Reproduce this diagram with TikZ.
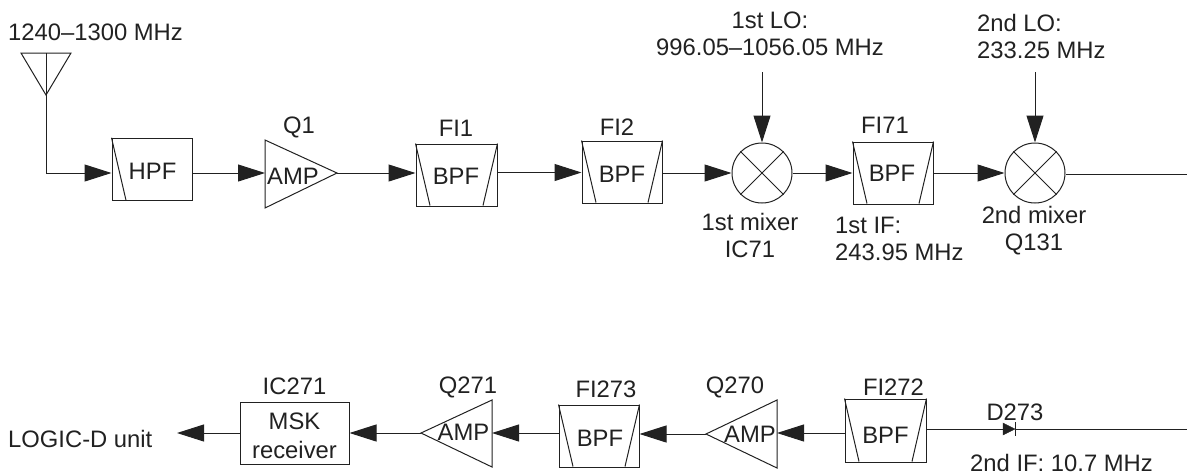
\documentclass[tikz,border=0pt]{standalone}
\usepackage{fontspec}
\setmainfont{Liberation Sans}
\usetikzlibrary{arrows.meta}
\definecolor{ink}{gray}{0.13}
\tikzset{
  x=1pt,y=-1pt,
  wire/.style={draw=ink,line width=1pt},
  sig/.style={wire,-{Triangle[length=27pt,width=17pt,fill=ink]}},
  outl/.style={draw=ink,line width=1pt},
  lbl/.style={text=ink,font=\fontsize{23.8}{27}\selectfont,inner sep=0pt,align=center},
  lblw/.style={lbl,align=left,anchor=west},
  boxn/.style={outl,rectangle,inner sep=0pt},
  mixern/.style={outl,circle,inner sep=0pt,minimum size=60pt}
}
% name, left, top, right, bottom, text x, text y
\newcommand{\bpfbox}[7]{%
  \node[boxn,minimum width={(#4-#2)*1pt},minimum height={(#5-#3)*1pt}] (#1) at ({(#2+#4)/2},{(#3+#5)/2}) {};
  \draw[outl] (#1.north west) -- ++(14.5,{#5-#3});
  \draw[outl] (#1.north east) -- ++(-14.5,{#5-#3});
  \node[lbl] (#1t) at (#6,#7) {BPF};
}
\newcommand{\mixerx}[1]{%
  \draw[outl] (#1.45) -- (#1.225);
  \draw[outl] (#1.135) -- (#1.315);
}
\begin{document}
\begin{tikzpicture}
\useasboundingbox (0,0) rectangle (1187,475);
% top row
\node[lbl,anchor=west] (rf) at (8,32) {1240–1300 MHz};
\draw[outl] (21,53) -- (71,53) -- (46,95) -- cycle;
\coordinate (antt) at (46,53);
\coordinate (antc) at (46,173);
\node[boxn,minimum width=80pt,minimum height=62.5pt] (hpf) at (152,169.5) {};
\draw[outl] (hpf.north west) -- ++(14.5,62.5);
\node[lbl] (hpft) at (152.5,171) {HPF};
\draw[wire] (antt) -- (antc);
\draw[sig] (antc) -- (antc -| hpf.west);
\coordinate (a1w) at (265,173);
\coordinate (a1e) at (337,173);
\draw[outl] (265,140) -- (337,173) -- (265,208) -- cycle;
\node[lbl] (amp1) at (293,176) {AMP};
\node[lbl] (q1) at (299,127) {Q1};
\draw[sig] (hpf.east |- a1w) -- (a1w);
\bpfbox{fi1}{416}{144}{497}{206}{456}{176}
\node[lbl] (fi1l) at (456,128) {FI1};
\draw[sig] (a1e) -- (a1e -| fi1.west);
\bpfbox{fi2}{582}{141}{662}{203}{622}{174}
\node[lbl] (fi2l) at (617,127) {FI2};
\coordinate (w2) at (497,172.5);
\draw[sig] (w2) -- (w2 -| fi2.west);
\node[mixern] (m1) at (762,173) {};
\mixerx{m1}
\draw[sig] (m1.west -| fi2.east) -- (m1.west);
\node[lbl] (lo1) at (770,33.5) {1st LO:\\996.05–1056.05 MHz};
\coordinate (lo1s) at (762,72);
\draw[sig] (lo1s) -- (m1.north);
\node[lbl] (m1l) at (750,235) {1st mixer\\IC71};
\bpfbox{fi71}{853}{142}{933}{204}{892}{173}
\node[lbl] (fi71l) at (885,125) {FI71};
\draw[sig] (m1.east) -- (m1.east -| fi71.west);
\node[lblw] (if1) at (835,239) {1st IF:\\243.95 MHz};
\node[mixern] (m2) at (1035,173) {};
\mixerx{m2}
\draw[sig] (fi71.east) -- (m2.west);
\node[lblw] (lo2) at (977,36) {2nd LO:\\233.25 MHz};
\coordinate (lo2s) at (1035,72);
\draw[sig] (lo2s) -- (m2.north);
\node[lbl] (m2l) at (1034,231) {2nd mixer\\Q131};
\coordinate (e1) at (1187,174);
\draw[wire] (m2.east |- e1) -- (e1);
% bottom row
\coordinate (e2) at (1187,429);
\coordinate (d1) at (1003,429);
\coordinate (d2) at (1015,429);
\bpfbox{fi272}{845}{399}{926}{462}{885.5}{435}
\node[lbl] (fi272l) at (893.5,387) {FI272};
\draw[wire] (e2) -- (d2);
\draw[draw=ink,fill=ink] (1003,423) -- (1015,429) -- (1003,435) -- cycle;
\draw[wire] (1015,422) -- (1015,436);
\draw[wire] (d1) -- (d1 -| fi272.east);
\node[lbl] (d273) at (1015,412) {D273};
\node[lbl] (if2) at (1061.5,463) {2nd IF: 10.7 MHz};
\coordinate (q270e) at (777,433);
\coordinate (q270w) at (706,434);
\draw[outl] (777,400) -- (706,434) -- (777,468) -- cycle;
\node[lbl] (amp270) at (750,434) {AMP};
\node[lbl] (q270) at (735,387) {Q270};
\draw[sig] (q270e -| fi272.west) -- (q270e);
\bpfbox{fi273}{559}{405}{639}{467}{600}{438}
\node[lbl] (fi273l) at (606,389) {FI273};
\draw[sig] (q270w) -- (q270w -| fi273.east);
\coordinate (q271e) at (492,433);
\coordinate (q271w) at (421,433);
\draw[outl] (492,400) -- (421,433) -- (492,467) -- cycle;
\node[lbl] (amp271) at (463.5,432) {AMP};
\node[lbl] (q271) at (468,387) {Q271};
\draw[sig] (q271e -| fi273.west) -- (q271e);
\node[boxn,minimum width=109pt,minimum height=62pt] (msk) at (294.5,433) {};
\node[lbl,font=\fontsize{23.8}{29}\selectfont] (mskt) at (294.5,435.5) {MSK\\receiver};
\node[lbl] (ic271) at (294.5,386) {IC271};
\draw[sig] (q271w) -- (q271w -| msk.east);
\node[lbl,anchor=west] (logic) at (8,439) {LOGIC-D unit};
\coordinate (lg) at (177,433);
\draw[sig] (lg -| msk.west) -- (lg);
\end{tikzpicture}
\end{document}
